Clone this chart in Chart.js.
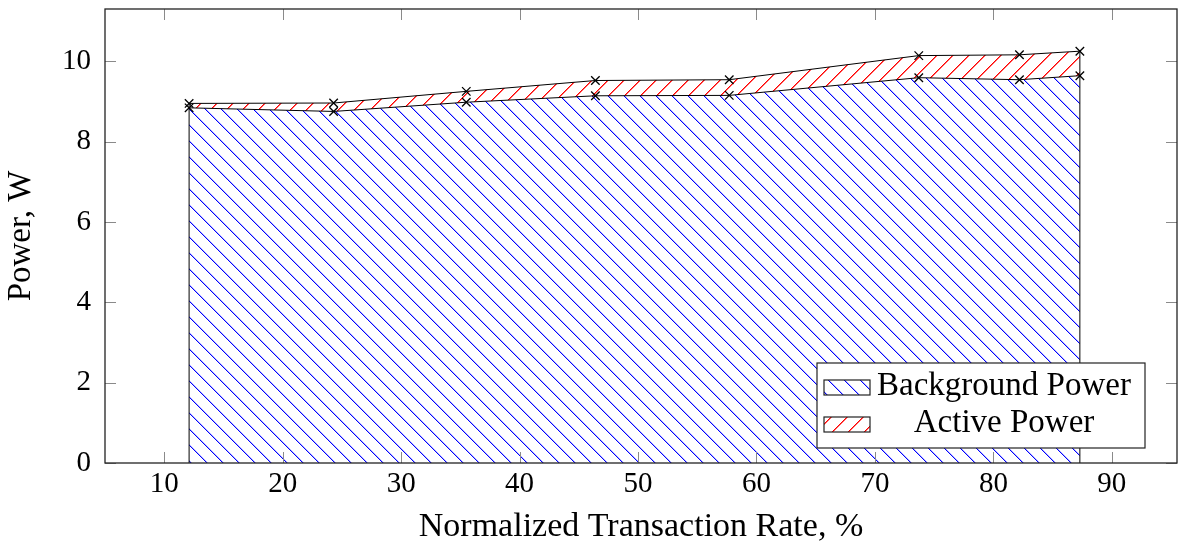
<!DOCTYPE html>
<html>
<head>
<meta charset="utf-8">
<script src="https://cdn.jsdelivr.net/npm/chart.js@4.4.0/dist/chart.umd.min.js"></script>
<style>
  html, body { margin: 0; padding: 0; background: #fff; }
  #wrap { width: 1179px; height: 548px; }
</style>
</head>
<body>
<div id="wrap"><canvas id="chart" width="1179" height="548"></canvas></div>
<script>
// values
const rates = [12.1, 24.3, 35.5, 46.4, 57.7, 73.7, 82.2, 87.3];
const backgroundPower = [8.84, 8.75, 8.98, 9.14, 9.15, 9.59, 9.54, 9.64];
const activePower = [0.11, 0.21, 0.27, 0.38, 0.39, 0.55, 0.62, 0.61];
const xTicks = [10, 20, 30, 40, 50, 60, 70, 80, 90];
const yTicks = [0, 2, 4, 6, 8, 10];
const seriesNames = ['Background Power', 'Active Power'];

const FONT = "'Liberation Serif', 'Times New Roman', serif";
const TICK_SIZE = 29;
const TEXT_SIZE = 33;

const canvas = document.getElementById('chart');
const ctx = canvas.getContext('2d');

// diagonal line fill, like pgfplots "north west lines" / "north east lines"
// drawn pixel by pixel, with a soft neighbour pixel so the colour holds up
function hatch(rgb, dir, soft) {
  const s = 16;
  const c = document.createElement('canvas');
  c.width = s; c.height = s;
  const g = c.getContext('2d');
  for (let i = 0; i < s; i++) {
    const y = dir === 'nw' ? i : s - 1 - i;
    g.fillStyle = 'rgb(' + rgb + ')';
    g.fillRect(i, y, 1, 1);
    g.fillStyle = 'rgba(' + rgb + ',' + soft + ')';
    g.fillRect((i + 1) % s, y, 1, 1);
  }
  return ctx.createPattern(c, 'repeat');
}

const bluePattern = hatch('0,0,255', 'nw', 0.3);
const redPattern = hatch('255,0,0', 'ne', 0.6);

// closes the stacked area with vertical edges at both ends
const edgeLines = {
  id: 'edgeLines',
  afterDatasetsDraw(chart) {
    const top = chart.getDatasetMeta(chart.data.datasets.length - 1).data;
    const y0 = chart.scales.y.getPixelForValue(0);
    const c = chart.ctx;
    c.save();
    c.strokeStyle = '#000';
    c.lineWidth = 1;
    c.beginPath();
    [top[0], top[top.length - 1]].forEach(p => {
      c.moveTo(p.x, y0);
      c.lineTo(p.x, p.y);
    });
    c.stroke();
    c.restore();
  }
};

// box around the plot and tick marks pointing inward on all four sides
const frame = {
  id: 'frame',
  afterDatasetsDraw(chart) {
    const { left, right, top, bottom } = chart.chartArea;
    const c = chart.ctx;
    const len = 11;
    c.save();
    c.strokeStyle = '#8a8a8a';
    c.lineWidth = 1;
    c.beginPath();
    chart.scales.x.ticks.forEach(t => {
      const x = Math.round(chart.scales.x.getPixelForValue(t.value)) + 0.5;
      c.moveTo(x, bottom); c.lineTo(x, bottom - len);
      c.moveTo(x, top); c.lineTo(x, top + len);
    });
    chart.scales.y.ticks.forEach(t => {
      const y = Math.round(chart.scales.y.getPixelForValue(t.value)) + 0.5;
      c.moveTo(left, y); c.lineTo(left + len, y);
      c.moveTo(right, y); c.lineTo(right - len, y);
    });
    c.stroke();
    c.strokeStyle = '#222';
    c.lineWidth = 1.3;
    c.strokeRect(left, top, right - left, bottom - top);
    c.restore();
  }
};

// legend box in the lower right corner of the plot
const boxLegend = {
  id: 'boxLegend',
  afterDraw(chart) {
    const { right, bottom } = chart.chartArea;
    const c = chart.ctx;
    const w = 328, h = 85;
    const bx = right - 32 - w, by = bottom - 15 - h;
    c.save();
    c.fillStyle = '#fff';
    c.fillRect(bx, by, w, h);
    c.strokeStyle = '#222';
    c.lineWidth = 1.2;
    c.strokeRect(bx, by, w, h);
    c.font = TEXT_SIZE + 'px ' + FONT;
    c.textAlign = 'center';
    c.textBaseline = 'alphabetic';
    chart.data.datasets.forEach((ds, i) => {
      const sy = by + 17 + i * 37;
      c.fillStyle = '#fff';
      c.fillRect(bx + 7, sy, 46, 15);
      c.fillStyle = ds.backgroundColor;
      c.fillRect(bx + 7, sy, 46, 15);
      c.strokeStyle = '#222';
      c.lineWidth = 1.2;
      c.strokeRect(bx + 7, sy, 46, 15);
      c.fillStyle = '#000';
      c.fillText(ds.label, bx + 187, sy + 15);
    });
    c.restore();
  }
};

Chart.defaults.font.family = FONT;
Chart.defaults.font.size = TICK_SIZE;
Chart.defaults.color = '#000';

const common = {
  borderColor: '#000',
  borderWidth: 1,
  pointStyle: 'crossRot',
  pointRadius: 6,
  pointBorderColor: '#000',
  pointBorderWidth: 1.3,
  tension: 0
};

new Chart(ctx, {
  type: 'line',
  data: {
    datasets: [
      Object.assign({
        label: seriesNames[0],
        data: rates.map((x, i) => ({ x, y: backgroundPower[i] })),
        fill: 'origin',
        backgroundColor: bluePattern
      }, common),
      Object.assign({
        label: seriesNames[1],
        data: rates.map((x, i) => ({ x, y: activePower[i] })),
        fill: '-1',
        backgroundColor: redPattern
      }, common)
    ]
  },
  options: {
    responsive: false,
    animation: false,
    devicePixelRatio: 1,
    layout: { autoPadding: false, padding: { top: 9, right: 2, left: 0, bottom: 0 } },
    plugins: {
      legend: { display: false },
      tooltip: { enabled: false }
    },
    scales: {
      x: {
        type: 'linear',
        min: 5,
        max: 95.5,
        grid: { display: false },
        border: { display: false },
        afterBuildTicks: s => { s.ticks = xTicks.map(v => ({ value: v })); },
        afterFit: s => { s.height = 85; s.paddingLeft = 0; s.paddingRight = 0; },
        ticks: { padding: -4, maxRotation: 0 },
        title: {
          display: true,
          text: 'Normalized Transaction Rate, %',
          font: { size: 34 },
          padding: { top: 0, bottom: 1 }
        }
      },
      y: {
        type: 'linear',
        stacked: true,
        min: 0,
        max: 11.3,
        grid: { display: false },
        border: { display: false },
        afterBuildTicks: s => { s.ticks = yTicks.map(v => ({ value: v })); },
        afterFit: s => { s.width = 105; s.paddingTop = 0; s.paddingBottom = 0; },
        ticks: { padding: 6 },
        title: {
          display: true,
          text: 'Power, W',
          font: { size: TEXT_SIZE },
          padding: { top: 2, bottom: 0 }
        }
      }
    }
  },
  plugins: [edgeLines, frame, boxLegend]
});
</script>
</body>
</html>
